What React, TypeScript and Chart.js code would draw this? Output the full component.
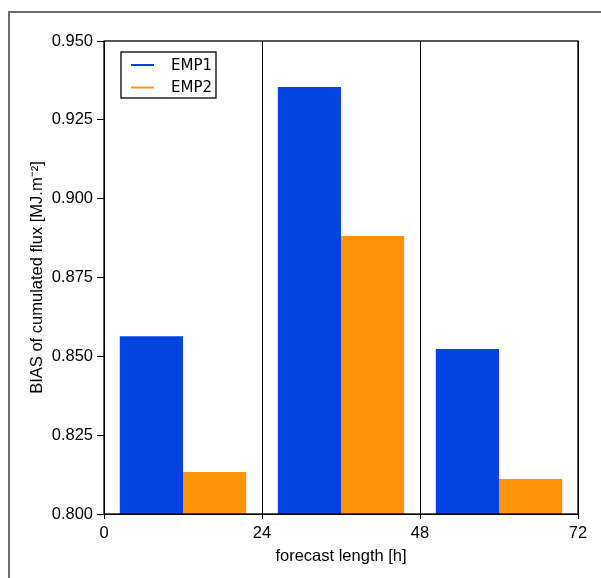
import React, { useEffect, useRef } from "react";
import { Chart, registerables } from "chart.js";

Chart.register(...registerables);

const categories = ["0-24", "24-48", "48-72"];
const emp1Values = [0.8564, 0.9354, 0.8523];
const emp2Values = [0.8133, 0.8882, 0.8111];
const seriesLabels = ["EMP1", "EMP2"];
const xTickValues = [0, 24, 48, 72];
const yTickMin = 0.8;
const yTickMax = 0.95;
const yTickStep = 0.025;

const BLUE = "#0343df";
const ORANGE = "#ff9408";
const FONT = "'Liberation Sans', Arial, sans-serif";

const framePlugin = {
  id: "framePlugin",
  beforeDraw(chart: any) {
    const ctx = chart.ctx;
    ctx.save();
    ctx.fillStyle = "#ffffff";
    ctx.fillRect(0, 0, chart.width, chart.height);
    ctx.strokeStyle = "#6e6e6e";
    ctx.lineWidth = 2;
    ctx.beginPath();
    ctx.moveTo(9, chart.height + 5);
    ctx.lineTo(9, 12);
    ctx.lineTo(chart.width + 5, 12);
    ctx.stroke();
    ctx.restore();
  },
  afterDraw(chart: any) {
    const ctx = chart.ctx;
    const a = chart.chartArea;
    ctx.save();
    ctx.strokeStyle = "#000000";
    ctx.lineWidth = 1.3;
    ctx.strokeRect(a.left, a.top, a.right - a.left, a.bottom - a.top);

    // legend
    const lx = a.left + 17;
    const ly = a.top + 11;
    const lw = 95;
    const lh = 46;
    ctx.fillStyle = "#ffffff";
    ctx.fillRect(lx, ly, lw, lh);
    ctx.lineWidth = 1.3;
    ctx.strokeStyle = "#000000";
    ctx.strokeRect(lx, ly, lw, lh);
    const colors = [BLUE, ORANGE];
    ctx.font = "15px 'DejaVu Sans'";
    ctx.textBaseline = "middle";
    ctx.textAlign = "left";
    seriesLabels.forEach((lab, i) => {
      const cy = ly + 13 + i * 22.5;
      ctx.strokeStyle = colors[i];
      ctx.lineWidth = 2;
      ctx.beginPath();
      ctx.moveTo(lx + 10, cy);
      ctx.lineTo(lx + 33, cy);
      ctx.stroke();
      ctx.fillStyle = "#000000";
      ctx.fillText(lab, lx + 50, cy + 1);
    });
    ctx.restore();
  },
};

export default function App() {
  const ref = useRef<HTMLCanvasElement | null>(null);
  useEffect(() => {
    if (!ref.current) return;
    const chart = new Chart(ref.current, {
      type: "bar",
      data: {
        labels: categories,
        datasets: [
          {
            label: seriesLabels[0],
            data: emp1Values,
            backgroundColor: BLUE,
            borderWidth: 0,
            xAxisID: "x",
            yAxisID: "y",
          },
          {
            label: seriesLabels[1],
            data: emp2Values,
            backgroundColor: ORANGE,
            borderWidth: 0,
            xAxisID: "x",
            yAxisID: "y",
          },
        ],
      },
      options: {
        responsive: false,
        animation: false,
        devicePixelRatio: 1,
        datasets: { bar: { categoryPercentage: 0.8, barPercentage: 1.0 } },
        layout: { padding: { left: 0, top: 41, right: 23, bottom: 0 } },
        plugins: { legend: { display: false }, tooltip: { enabled: false } },
        scales: {
          x: { type: "category", display: false, offset: true },
          x2: {
            type: "linear",
            position: "bottom",
            min: 0,
            max: 72,
            offset: false,
            afterBuildTicks: (scale: any) => {
              scale.ticks = xTickValues.map((v) => ({ value: v }));
            },
            afterFit: (scale: any) => {
              scale.height = 64;
            },
            ticks: {
              color: "#000000",
              font: { family: FONT, size: 16.5 },
              padding: 5,
              maxRotation: 0,
            },
            grid: {
              display: true,
              offset: false,
              drawOnChartArea: true,
              drawTicks: true,
              tickLength: 5,
              color: "#000000",
              lineWidth: 1,
            },
            border: { display: true, color: "#000000", width: 1 },
            title: {
              display: true,
              text: "forecast length [h]",
              color: "#000000",
              font: { family: FONT, size: 16.5 },
              padding: { top: 0, bottom: 12 },
            },
          },
          y: {
            type: "linear",
            position: "left",
            min: yTickMin,
            max: yTickMax,
            afterFit: (scale: any) => {
              scale.width = 104;
            },
            ticks: {
              stepSize: yTickStep,
              color: "#000000",
              font: { family: FONT, size: 16.5 },
              padding: 4,
              callback: (v: any) => Number(v).toFixed(3),
            },
            grid: {
              display: true,
              drawOnChartArea: false,
              drawTicks: true,
              tickLength: 7,
              color: "#000000",
              lineWidth: 1,
            },
            border: { display: true, color: "#000000", width: 1 },
            title: {
              display: true,
              text: "BIAS of cumulated flux [MJ.m\u207B\u00B2]",
              color: "#000000",
              font: { family: FONT, size: 16.5 },
              padding: { top: 28, bottom: 0 },
            },
          },
        },
      },
      plugins: [framePlugin],
    } as any);
    return () => chart.destroy();
  }, []);
  return (
    <div style={{ position: "absolute", left: 0, top: 0, width: 601, height: 578 }}>
      <canvas ref={ref} width={601} height={578} style={{ display: "block" }} />
    </div>
  );
}
